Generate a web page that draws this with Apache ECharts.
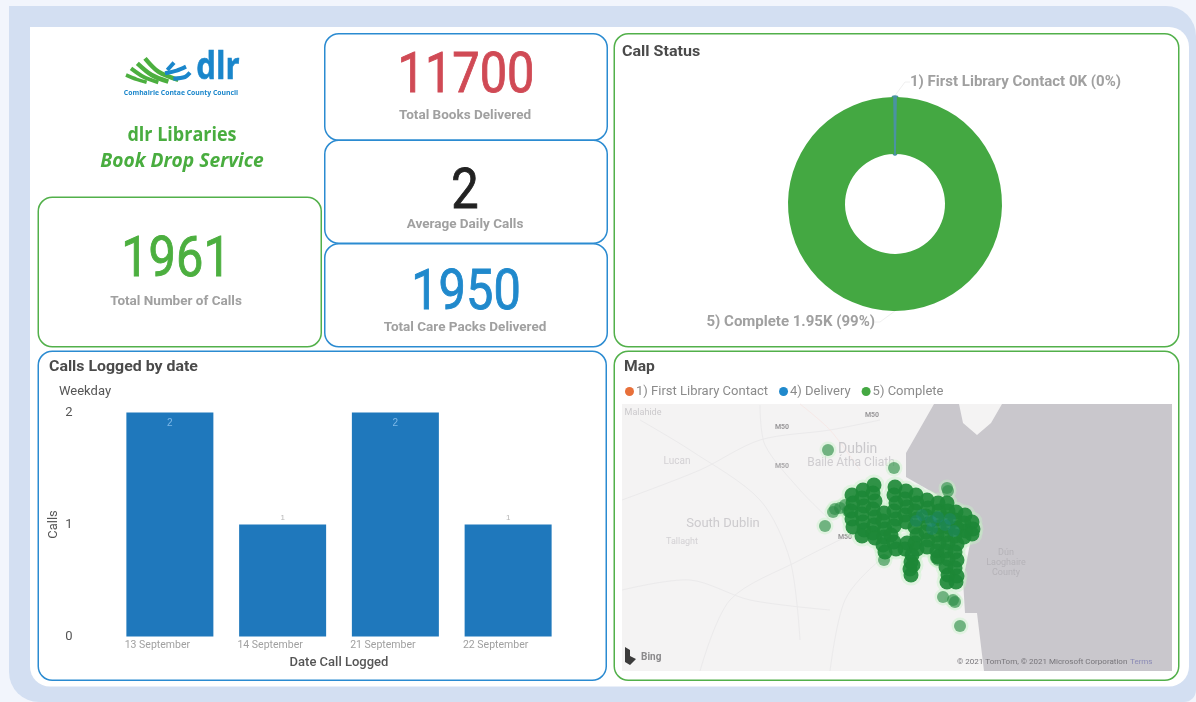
<!DOCTYPE html>
<html><head><meta charset="utf-8">
<style>html,body{margin:0;padding:0;background:#f2f5fc}#c{width:1196px;height:702px}</style>
<script src="https://cdn.jsdelivr.net/npm/echarts@6/dist/echarts.min.js"></script>
</head><body><div id="c"></div>
<script>
// ---- data ----
const dates = ['13 September','14 September','21 September','22 September'];
const calls = [2,1,2,1];
const statusNames = ['1) First Library Contact','4) Delivery','5) Complete'];
const statusValues = [5,6,1950];
const kpiValues = ['11700','2','1950','1961'];
const kpiLabels = ['Total Books Delivered','Average Daily Calls','Total Care Packs Delivered','Total Number of Calls'];
// map points: km east / km north of the map's south-west corner
const firstContactPts = [[29.6,14.6],[31.2,13.4]];
const deliveryPts = [[30.0,15.6],[30.9,15.0],[31.6,15.4],[32.3,14.6],[31.0,14.2],[32.8,15.2],[29.4,15.0],[33.2,14.0]];
const completeOutliers = [
 [20.6,22.1],[27.2,20.3],[32.5,18.3],[32.6,18.0],[21.1,15.9],[21.3,16.2],[20.3,14.5],[22.3,16.6],[21.8,16.3],[22.6,16.0],
 [32.1,7.4],[33.1,7.1],[33.3,6.9],[33.8,4.5],[26.2,11.1],[31.6,11.1],[31.4,11.3]
];
const completePts = [
 [23.0,17.6],[23.1,16.8],[22.9,16.0],[23.0,15.2],[23.1,14.4],
 [24.1,18.1],[24.0,17.3],[24.2,16.5],[24.0,15.7],[24.1,14.9],[24.2,14.1],[24.0,13.5],
 [25.2,18.6],[25.1,17.8],[25.3,17.0],[25.1,16.2],[25.3,15.4],[25.2,14.6],[25.1,13.8],[25.3,13.3],
 [26.2,15.8],[26.1,15.0],[26.3,14.2],[26.2,13.4],[26.1,12.6],[26.3,11.9],
 [27.3,18.4],[27.2,17.6],[27.4,16.8],[27.2,16.0],[27.4,15.2],[27.2,14.5],[26.9,13.6],[27.2,12.9],[27.4,12.2],
 [28.4,18.0],[28.3,17.2],[28.5,16.4],[28.3,15.6],[28.4,14.9],[28.5,12.8],[28.3,12.2],
 [29.0,11.6],[28.9,10.9],[28.8,10.2],[28.9,9.6],[29.1,10.6],
 [29.4,17.6],[29.5,16.8],[29.3,16.0],[29.5,15.2],[29.3,14.4],[29.5,13.6],[29.3,12.8],[29.5,12.2],
 [30.5,17.1],[30.6,16.3],[30.4,15.5],[30.6,14.7],[30.4,13.9],[30.6,13.1],[30.5,12.4],
 [31.6,16.8],[31.7,16.0],[31.5,15.2],[31.7,14.4],[31.5,13.6],[31.7,12.8],[31.5,12.0],[31.6,11.4],
 [32.5,16.8],[32.6,16.0],[32.4,15.2],[32.6,14.4],[32.4,13.6],[32.6,12.8],[32.4,12.0],[32.6,11.2],[32.4,10.4],[32.6,9.6],[32.5,8.9],
 [33.4,15.9],[33.3,15.1],[33.5,14.3],[33.3,13.5],[33.5,12.7],[33.3,11.9],[33.5,11.1],[33.3,10.3],[33.5,9.5],[33.4,8.9],
 [34.3,15.6],[34.2,14.8],[34.4,14.0],[34.2,13.4],
 [35.0,14.9],[35.1,14.2],[35.0,13.7]
];
// ---- helpers ----
const BLUE='#2b8bd1', GREEN='#52b04a';
function txt(s,x,y,font,fill,o){o=o||{};return {type:'text',x:x,y:y,scaleX:o.sx||1,rotation:o.rot||0,
 style:{text:s,font:font,fill:fill,stroke:o.stroke?fill:null,lineWidth:o.stroke||0,textAlign:o.a||'center',textVerticalAlign:'middle',align:o.a||'center',verticalAlign:'middle',opacity:o.op==null?1:o.op}};}
function card(x,y,w,h,c,r){return {type:'rect',shape:{x:x,y:y,width:w,height:h,r:r||14},style:{fill:'#fff',stroke:c,lineWidth:1.5}};}
function poly(points,fill){return {type:'polygon',shape:{points:points},style:{fill:fill}};}
function line(points,c,w){return {type:'polyline',shape:{points:points,smooth:.3},style:{fill:'none',stroke:c||'#ebeaeb',lineWidth:w||1}};}
function zl(p){return p.map(q=>[30+q[0]/3,30+q[1]/3]);} // logo outline, zoomed units
const ROB='Roboto, sans-serif', LBL='bold 13px '+ROB, BIG='56px '+ROB;
const graphics=[
 {type:'rect',shape:{x:9,y:6,width:1187,height:696,r:[0,30,12,30]},style:{fill:'#d3dff2'}},
 {type:'rect',shape:{x:30,y:27,width:1159,height:659.5,r:[0,20,20,20]},style:{fill:'#fff'}},
 card(324.75,33.75,282.5,106.5,BLUE),card(324.75,140.25,282.5,103,BLUE),card(324.75,243.75,282.5,103,BLUE),
 card(38.25,197.25,283,149.5,GREEN),card(614.25,33.75,564.5,313,GREEN),
 card(38.25,351.25,568,329,BLUE),card(614.25,351.25,564.5,329,GREEN),
 // logo
 line(zl([[345,85],[385,125],[445,150]]),'#4caf3f',4.4),
 line(zl([[322,100],[365,135],[415,155]]),'#4caf3f',4.4),
 line(zl([[303,115],[340,140],[385,157]]),'#4caf3f',4),
 line(zl([[288,135],[320,148],[350,157]]),'#4caf3f',3.6),
 line(zl([[412,120],[432,98]]),'#1a86cb',4),
 line(zl([[405,130],[440,122],[468,110]]),'#1a86cb',4),
 line(zl([[430,146],[465,141],[480,128]]),'#1a86cb',4),
 txt('dlr',218,68,'bold 38px "Open Sans", sans-serif','#1a86cb',{sx:.82,stroke:.6}),
 txt('Comhairle Contae County Council',181,93,'bold 7.5px "Open Sans", sans-serif','#1a86cb',{sx:.91}),
 txt('dlr Libraries',182,135,'bold 20px "Open Sans", sans-serif','#49ad3f',{sx:.9}),
 txt('Book Drop Service',182,161,'italic bold 20px "Open Sans", sans-serif','#49ad3f',{sx:.96}),
 // KPI cards
 txt(kpiValues[0],466,78,BIG,'#d04a55',{sx:.87,stroke:.9}),
 txt(kpiLabels[0],465,116,LBL,'#a0a0a0',{sx:1.04}),
 txt(kpiValues[1],465,194,BIG,'#222222',{sx:.87,stroke:.9}),
 txt(kpiLabels[1],465,225,LBL,'#a0a0a0',{sx:1.04}),
 txt(kpiValues[2],466,295,BIG,'#2089cc',{sx:.87,stroke:.9}),
 txt(kpiLabels[2],465,328,LBL,'#a0a0a0',{sx:1.04}),
 txt(kpiValues[3],176,262,BIG,'#4caf3f',{sx:.87,stroke:.9}),
 txt(kpiLabels[3],176,302,LBL,'#a0a0a0',{sx:1.04}),
 // panel titles
 txt('Call Status',622,52,'bold 15px '+ROB,'#4a4a4a',{a:'left',sx:1.07}),
 txt('Calls Logged by date',49,367,'bold 15px '+ROB,'#4a4a4a',{a:'left',sx:1.06}),
 txt('Map',624,367,'bold 15px '+ROB,'#4a4a4a',{a:'left',sx:1.04}),
 txt('Weekday',59,392,'13px '+ROB,'#555555',{a:'left'}),
 // map base
 {type:'rect',shape:{x:622,y:404,width:550,height:267},style:{fill:'#f4f3f3'}},
 poly([[934,404],[906,453],[906,477],[941,497],[974,523],[963,580],[965,613],[977,613],[984,671],[1172,671],[1172,404],[1002,404],[991,423],[977,435],[963,423],[959,404]],'#c9c7cc'),
 line([[622,500],[700,470],[760,440],[830,430],[880,420]]),
 line([[640,420],[690,450],[760,500],[790,560],[800,640]]),
 line([[700,671],[730,600],[800,560],[860,530]]),
 line([[760,405],[765,445],[800,490],[830,520]]),
 line([[830,671],[845,600],[880,560],[915,540]]),
 line([[622,590],[690,580],[750,600],[830,610]]),
 line([[800,404],[830,430],[860,470]],'#f7e9e7'),
 txt('Malahide',643,413,'9px '+ROB,'#cbc9cc'),
 txt('Lucan',677,461,'10px '+ROB,'#d3d1d4'),
 txt('South Dublin',723,524,'13px '+ROB,'#cdcbce'),
 txt('Dublin',838,449,'14px '+ROB,'#c9c8cb',{a:'left'}),
 txt('Baile Átha Cliath',851,463,'12px '+ROB,'#cfcdd0'),
 txt('Tallaght',682,542,'9px '+ROB,'#d3d1d4'),
 txt('Dún',1006,553,'9px '+ROB,'#b5b3b8'),
 txt('Laoghaire',1006,563,'9px '+ROB,'#b5b3b8'),
 txt('County',1006,573,'9px '+ROB,'#b5b3b8'),
 txt('M50',782,427,'bold 7px '+ROB,'#999799'),
 txt('M50',782,466,'bold 7px '+ROB,'#aaa8aa'),
 txt('M50',872,415,'bold 7px '+ROB,'#999799'),
 txt('M50',845,537,'bold 7px '+ROB,'#999799'),
 {type:'polygon',shape:{points:[[625,647],[630,650],[630,656],[636,659],[630,665],[625,662]]},style:{fill:'#3c3c3c'}},
 txt('Bing',641,657,'bold 10px '+ROB,'#8a898b',{a:'left'}),
 txt('© 2021 TomTom, © 2021 Microsoft Corporation',957,662,'8px '+ROB,'#77757a',{a:'left'}),
 txt('Terms',1130,662,'8px '+ROB,'#8a8ab5',{a:'left'})
];
const chart=echarts.init(document.getElementById('c'),null,{renderer:'canvas'});
function scatter(name,data,color,op,size,z){return {type:'scatter',name:name,xAxisIndex:1,yAxisIndex:1,data:data,symbolSize:size,
 itemStyle:{color:color,opacity:op},silent:true,z:z||3};}
const legendColors=['#e8703a','#2089cc','#44a842'];
chart.setOption({
 animation:false,
 backgroundColor:'#f2f5fc',
 graphic:{elements:graphics},
 legend:{data:statusNames.map((n,i)=>({name:n,itemStyle:{color:legendColors[i],opacity:1}})),left:625,top:385,padding:0,icon:'circle',itemWidth:9,itemHeight:9,itemGap:11,
   textStyle:{color:'#8b8b8b',fontFamily:'Roboto',fontSize:13,padding:[0,0,0,-3]},selectedMode:false},
 grid:[{left:113.5,top:412.5,width:451,height:224},{left:622,top:404,width:550,height:267}],
 xAxis:[{type:'category',gridIndex:0,data:dates,axisLine:{show:false},axisTick:{show:false},
   axisLabel:{color:'#a0a0a0',fontSize:10.5,fontFamily:'Roboto',margin:3,padding:[0,25,0,0]},
   name:'Date Call Logged',nameLocation:'middle',nameGap:20,nameTextStyle:{color:'#555',fontSize:13,fontFamily:'Roboto',fontWeight:500}},
  {type:'value',gridIndex:1,min:0,max:55,show:false}],
 yAxis:[{type:'value',gridIndex:0,min:0,max:2,interval:1,splitLine:{show:false},axisLine:{show:false},axisTick:{show:false},
   axisLabel:{color:'#555',fontSize:13,fontFamily:'Roboto',margin:41},
   name:'Calls',nameLocation:'middle',nameGap:53,nameTextStyle:{color:'#555',fontSize:13,fontFamily:'Roboto'}},
  {type:'value',gridIndex:1,min:0,max:26.7,show:false}],
 series:[
  {type:'bar',name:'Calls',xAxisIndex:0,yAxisIndex:0,barWidth:87,itemStyle:{color:'#1f78bc'},
   data:calls.map(v=>({value:v,label:v>1?{show:true,position:'insideTop',color:'#7db8e8',fontSize:10,distance:6}:{show:true,position:'top',color:'#b5b5b5',fontSize:8,distance:3}}))},
  {type:'pie',name:'Call Status',center:[895,204],radius:[50,107],startAngle:91,clockwise:true,
   minShowLabelAngle:0,avoidLabelOverlap:false,
   data:statusNames.map((n,i)=>({name:n,value:statusValues[i],
     itemStyle:i<2?{color:'#4a93a2',borderColor:'#4a93a2',borderWidth:3}:{color:'#44a842'},
     label:{show:i!==1},labelLine:{show:i!==1}})),
   label:{position:'outside',color:'#a0a0a0',fontFamily:'Roboto',fontWeight:'bold',fontSize:15,
     formatter:p=>p.name+(p.dataIndex===2?' 1.95K (99%)':' 0K (0%)')},
   labelLine:{length:5,length2:5,lineStyle:{color:'#f0f0f0',width:1}},
   labelLayout:function(p){return p.dataIndex===0?{x:910,y:82,align:'left',verticalAlign:'middle'}:{x:875,y:322,align:'right',verticalAlign:'middle'};}},
  scatter(statusNames[0],firstContactPts,'#e8703a',.9,11,3),
  scatter(statusNames[2],completePts,'#c6f2c6',.4,21,3),
  scatter(statusNames[2],completeOutliers,'#c6f2c6',.4,17,3),
  scatter(statusNames[2],completeOutliers,'#2a8a44',.62,12,4),
  scatter(statusNames[2],completePts,'#1d8736',.9,15,4),
  scatter(statusNames[1],deliveryPts,'#1f86b0',.2,12,5)
 ]
});
</script></body></html>
